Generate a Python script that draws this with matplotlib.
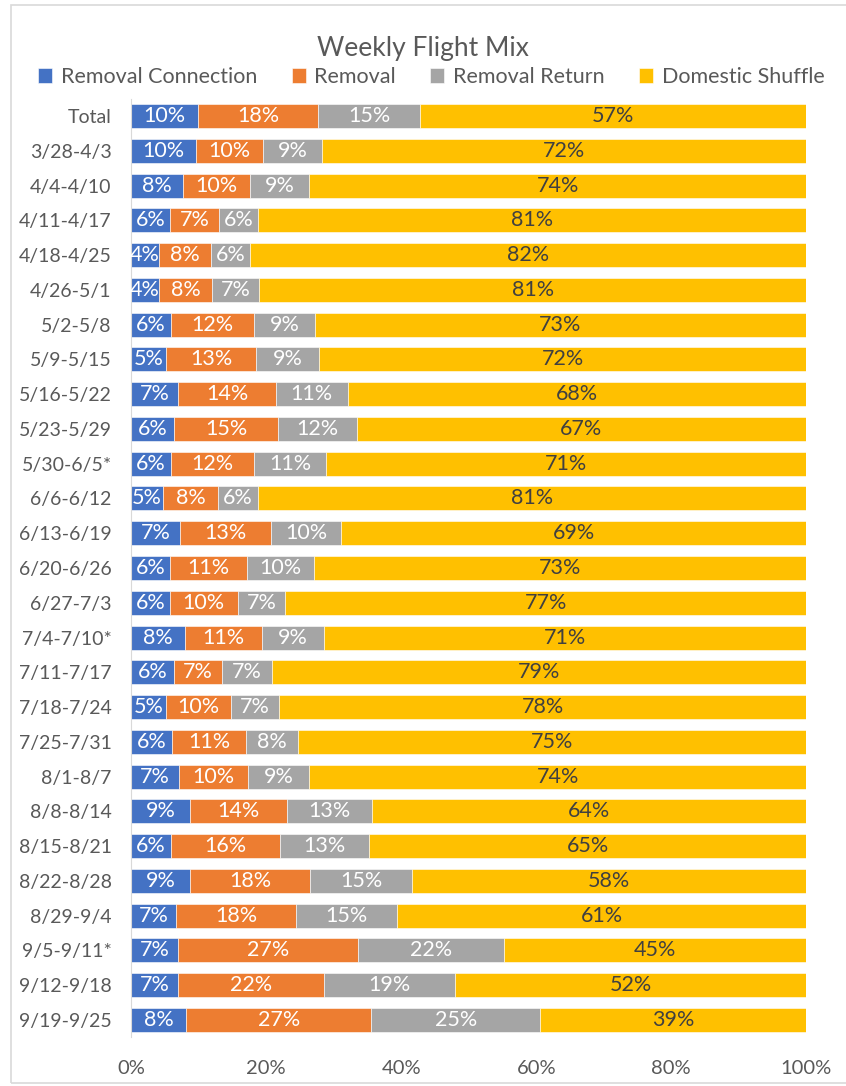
import matplotlib.pyplot as plt
import numpy as np
from matplotlib.patches import Rectangle

plt.rcParams['font.family'] = ['Lato', 'DejaVu Sans']

weeks = ['Total', '3/28-4/3', '4/4-4/10', '4/11-4/17', '4/18-4/25', '4/26-5/1',
         '5/2-5/8', '5/9-5/15', '5/16-5/22', '5/23-5/29', '5/30-6/5*', '6/6-6/12',
         '6/13-6/19', '6/20-6/26', '6/27-7/3', '7/4-7/10*', '7/11-7/17', '7/18-7/24',
         '7/25-7/31', '8/1-8/7', '8/8-8/14', '8/15-8/21', '8/22-8/28', '8/29-9/4',
         '9/5-9/11*', '9/12-9/18', '9/19-9/25']
removal_connection = [9.9, 9.6, 7.7, 5.8, 4.1, 4.1, 5.9, 5.2, 7.0, 6.4, 5.9, 4.7, 7.3, 5.8,
                      5.7, 8.0, 6.4, 5.2, 6.1, 7.1, 8.7, 5.9, 8.7, 6.7, 7.0, 7.0, 8.2]
removal = [17.8, 10.0, 9.9, 7.2, 7.7, 7.9, 12.3, 13.3, 14.4, 15.4, 12.3, 8.2, 13.4, 11.4,
           10.1, 11.4, 7.1, 9.6, 10.9, 10.2, 14.4, 16.2, 17.8, 17.7, 26.6, 21.6, 27.4]
removal_return = [15.1, 8.6, 8.8, 5.8, 5.8, 7.0, 9.0, 9.3, 10.7, 11.6, 10.7, 5.9, 10.4, 9.9,
                  7.0, 9.2, 7.4, 7.1, 7.7, 9.1, 12.6, 13.2, 15.1, 15.0, 21.7, 19.4, 25.0]
domestic_shuffle = [57.2, 71.8, 73.6, 81.2, 82.4, 81.0, 72.8, 72.2, 67.9, 66.6, 71.1, 81.2,
                    68.9, 72.9, 77.2, 71.4, 79.1, 78.1, 75.3, 73.6, 64.3, 64.7, 58.4, 60.6,
                    44.7, 52.0, 39.4]

series = [('Removal Connection', removal_connection, '#4472C4', 'white'),
          ('Removal', removal, '#ED7D31', 'white'),
          ('Removal Return', removal_return, '#A5A5A5', 'white'),
          ('Domestic Shuffle', domestic_shuffle, '#FFC000', '#404040')]

fig = plt.figure(figsize=(8.46, 10.86), dpi=100)
ax = fig.add_axes([0.155, 0.0448, 0.798, 0.8644])

y = np.arange(len(weeks))
left = np.zeros(len(weeks))
for name, vals, color, tcolor in series:
    vals = np.array(vals)
    bars = ax.barh(y, vals, left=left, height=0.69, color=color, label=name,
                   edgecolor='white', linewidth=0.4)
    ax.bar_label(bars, labels=['{:.0f}%'.format(v) for v in vals], label_type='center',
                 color=tcolor, fontsize=15.5)
    left += vals

ax.set_ylim(len(weeks) - 0.5, -0.5)
ax.set_xlim(0, 100)
ax.set_yticks(y)
ax.set_yticklabels(weeks, fontsize=14, color='#595959')
ax.set_xticks(np.arange(0, 101, 20))
ax.set_xticklabels(['{}%'.format(t) for t in range(0, 101, 20)], fontsize=14.5, color='#595959')
ax.tick_params(length=0)
ax.tick_params(axis='x', pad=16)
ax.tick_params(axis='y', pad=14)
for s in ['top', 'right', 'bottom']:
    ax.spines[s].set_visible(False)
ax.spines['left'].set_color('#D9D9D9')

fig.text(0.5, 0.955, 'Weekly Flight Mix', ha='center', va='center', fontsize=19, color='#595959')
fig.legend(loc='center', bbox_to_anchor=(0.51, 0.929), ncol=4, frameon=False, fontsize=15.5,
           handlelength=0.65, handleheight=0.65, handletextpad=0.4, columnspacing=1.6,
           labelcolor='#595959')

fig.patches.append(Rectangle((11 / 846, 0.003), 1.0, 0.992, transform=fig.transFigure,
                             fill=False, edgecolor='#D9D9D9', linewidth=1.2))

fig.savefig('out.png', dpi=100)
